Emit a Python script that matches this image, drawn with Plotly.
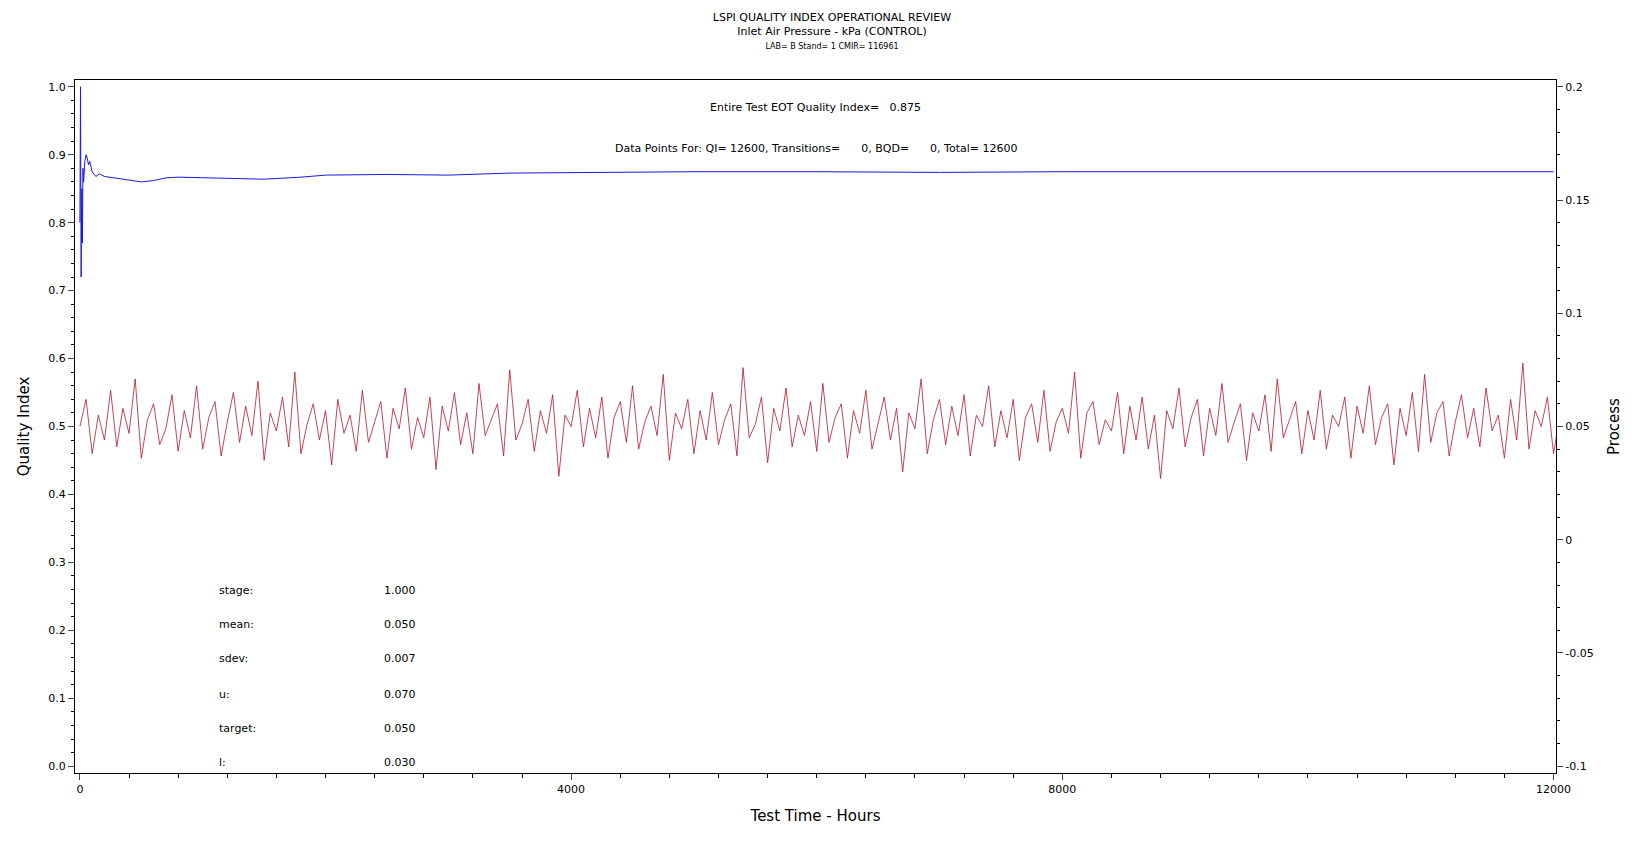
import plotly.graph_objects as go

# Quality index (cumulative) series
qi_hours = [0, 5, 10, 15, 20, 25, 30, 40, 50, 60, 70, 80, 100, 130, 160, 200, 300, 400, 500, 600, 700, 800, 1000, 1200, 1500, 1800, 2000, 2500, 3000, 3500, 4000, 5000, 6000, 7000, 8000, 9000, 10000, 11000, 12000]
qi_values = [0.80, 1.00, 0.72, 0.85, 0.77, 0.88, 0.86, 0.89, 0.90, 0.895, 0.885, 0.89, 0.875, 0.868, 0.872, 0.868, 0.865, 0.862, 0.860, 0.862, 0.866, 0.867, 0.866, 0.865, 0.864, 0.867, 0.870, 0.871, 0.870, 0.873, 0.874, 0.875, 0.875, 0.874, 0.875, 0.875, 0.875, 0.875, 0.875]

process_values = [
0.050,0.062,0.038,0.055,0.044,0.066,0.041,0.058,0.047,0.071,0.036,0.053,0.060,0.042,0.049,0.064,0.039,0.057,0.045,0.068,
0.040,0.054,0.061,0.037,0.052,0.065,0.043,0.059,0.046,0.070,0.035,0.056,0.048,0.063,0.041,0.074,0.038,0.051,0.060,0.044,
0.057,0.033,0.062,0.047,0.055,0.039,0.066,0.043,0.052,0.061,0.036,0.058,0.049,0.067,0.040,0.054,0.045,0.063,0.031,0.059,
0.048,0.065,0.042,0.056,0.038,0.069,0.046,0.053,0.060,0.037,0.075,0.044,0.051,0.062,0.039,0.057,0.047,0.064,0.028,0.055,
0.050,0.066,0.041,0.058,0.045,0.063,0.036,0.054,0.061,0.043,0.068,0.040,0.052,0.059,0.046,0.073,0.035,0.056,0.049,0.062,
0.038,0.057,0.044,0.065,0.042,0.053,0.060,0.037,0.076,0.045,0.051,0.063,0.034,0.058,0.048,0.067,0.041,0.055,0.046,0.061,
0.039,0.069,0.043,0.054,0.060,0.036,0.057,0.047,0.066,0.040,0.052,0.063,0.044,0.058,0.030,0.056,0.049,0.071,0.038,0.053,
0.062,0.042,0.059,0.046,0.064,0.037,0.055,0.050,0.068,0.041,0.057,0.045,0.062,0.035,0.054,0.060,0.043,0.066,0.039,0.052,
0.058,0.047,0.074,0.036,0.056,0.061,0.042,0.053,0.048,0.065,0.038,0.059,0.044,0.063,0.040,0.055,0.027,0.057,0.049,0.067,
0.041,0.054,0.062,0.037,0.058,0.046,0.069,0.043,0.052,0.060,0.035,0.056,0.048,0.064,0.039,0.071,0.045,0.053,0.061,0.038,
0.057,0.044,0.066,0.040,0.055,0.050,0.063,0.036,0.059,0.047,0.068,0.042,0.054,0.060,0.033,0.058,0.046,0.065,0.039,0.073,
0.043,0.056,0.061,0.037,0.052,0.064,0.045,0.058,0.041,0.067,0.048,0.055,0.036,0.062,0.044,0.078,0.040,0.057,0.050,0.063,
0.038,0.054,0.047,0.066,0.035,0.059,0.049,0.061,
]
process_hours = [i * 50 for i in range(len(process_values))]

stat_labels = ["stage:", "mean:", "sdev:", "u:", "target:", "l:"]
stat_values = ["1.000", "0.050", "0.007", "0.070", "0.050", "0.030"]
stat_rows = [0.258, 0.208, 0.158, 0.106, 0.056, 0.006]

font = "DejaVu Sans"
fig = go.Figure()
fig.add_trace(go.Scatter(x=process_hours, y=process_values, mode="lines",
                         line=dict(color="#B0182B", width=0.8), yaxis="y2", showlegend=False))
fig.add_trace(go.Scatter(x=qi_hours, y=qi_values, mode="lines",
                         line=dict(color="#1a1adb", width=1), showlegend=False))

ann = [
    dict(text="Entire Test EOT Quality Index=   0.875", x=0.5, y=0.972, xref="paper", yref="paper", showarrow=False, font=dict(size=11)),
    dict(text="Data Points For: QI= 12600, Transitions=      0, BQD=      0, Total= 12600", x=0.5, y=0.913, xref="paper", yref="paper", showarrow=False, font=dict(size=11)),
]
for lab, val, yy in zip(stat_labels, stat_values, stat_rows):
    ann.append(dict(text=lab, x=1120, y=yy, xref="x", yref="y", showarrow=False, xanchor="left", font=dict(size=11)))
    ann.append(dict(text=val, x=2460, y=yy, xref="x", yref="y", showarrow=False, xanchor="left", font=dict(size=11)))

fig.update_layout(
    width=1648, height=845, paper_bgcolor="white", plot_bgcolor="white",
    font=dict(family=font, color="black", size=11),
    margin=dict(l=67, r=100, t=72, b=80),
    title=dict(text="LSPI QUALITY INDEX OPERATIONAL REVIEW<br>Inlet Air Pressure - kPa (CONTROL)<br><span style='font-size:8px'>LAB= B Stand= 1 CMIR= 116961</span>",
               x=0.5, xanchor="center", y=0.985, yanchor="top", font=dict(size=11)),
    xaxis=dict(range=[-40, 12020], tickvals=[0, 4000, 8000, 12000], ticktext=["0", "4000", "8000", "12000"],
               title=dict(text="Test Time - Hours", font=dict(size=15)),
               showgrid=False, zeroline=False, showline=True, linecolor="black", mirror=True, ticks="outside", ticklen=6,
               minor=dict(dtick=400, ticks="outside", ticklen=4, tickcolor="black")),
    yaxis=dict(range=[-0.01, 1.01], dtick=0.1, tickformat=".1f", title=dict(text="Quality Index", font=dict(size=15)),
               showgrid=False, zeroline=False, showline=True, linecolor="black", mirror=True, ticks="outside", ticklen=6,
               minor=dict(dtick=0.02, ticks="outside", ticklen=3, tickcolor="black")),
    yaxis2=dict(range=[-0.103, 0.203], overlaying="y", side="right", tickvals=[-0.1, -0.05, 0, 0.05, 0.1, 0.15, 0.2],
                ticktext=["-0.1", "-0.05", "0", "0.05", "0.1", "0.15", "0.2"], title=dict(text="Process", font=dict(size=15)),
                showgrid=False, zeroline=False, ticks="outside", ticklen=6,
                minor=dict(dtick=0.01, ticks="outside", ticklen=3, tickcolor="black")),
    annotations=ann,
)
fig.write_html("out.html")
